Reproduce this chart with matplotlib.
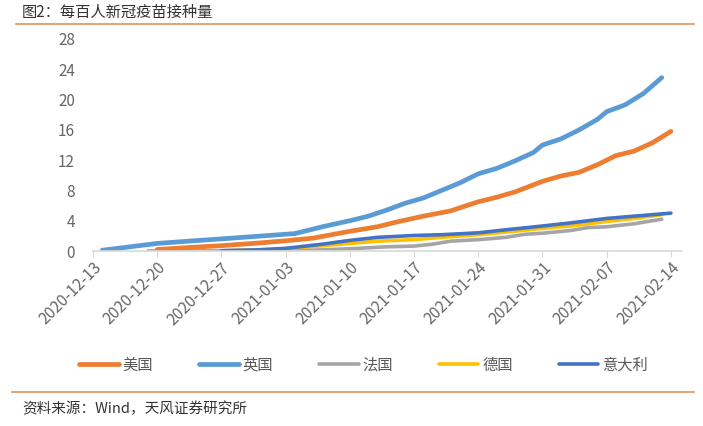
import matplotlib
matplotlib.use("Agg")
import matplotlib.pyplot as plt
import matplotlib.dates as mdates
import pandas as pd

plt.rcParams['font.family'] = ['Noto Sans CJK SC', 'DejaVu Sans']

# data (doses per 100 people)
us_dates = ["2020-12-20", "2020-12-24", "2020-12-27", "2020-12-31", "2021-01-03", "2021-01-06",
            "2021-01-10", "2021-01-13", "2021-01-15", "2021-01-18", "2021-01-21", "2021-01-24",
            "2021-01-26", "2021-01-28", "2021-01-31", "2021-02-02", "2021-02-04", "2021-02-06",
            "2021-02-08", "2021-02-10", "2021-02-12", "2021-02-14"]
us_vals = [0.2, 0.5, 0.7, 1.05, 1.35, 1.7, 2.6, 3.2, 3.8, 4.6, 5.3, 6.5,
           7.1, 7.8, 9.2, 9.9, 10.4, 11.4, 12.6, 13.2, 14.3, 15.8]

uk_dates = ["2020-12-14", "2020-12-17", "2020-12-20", "2020-12-24", "2020-12-27", "2020-12-31",
            "2021-01-04", "2021-01-07", "2021-01-10", "2021-01-12", "2021-01-14", "2021-01-16",
            "2021-01-18", "2021-01-20", "2021-01-22", "2021-01-24", "2021-01-26", "2021-01-28",
            "2021-01-30", "2021-01-31", "2021-02-02", "2021-02-04", "2021-02-06", "2021-02-07",
            "2021-02-09", "2021-02-11", "2021-02-13"]
uk_vals = [0.1, 0.55, 1.0, 1.35, 1.6, 1.95, 2.3, 3.2, 4.0, 4.6, 5.4, 6.3,
           7.0, 8.0, 9.0, 10.2, 10.9, 11.9, 13.0, 14.0, 14.8, 16.0, 17.4, 18.4,
           19.3, 20.8, 22.9]

fr_dates = ["2020-12-19", "2020-12-27", "2021-01-03", "2021-01-07", "2021-01-10", "2021-01-14",
            "2021-01-17", "2021-01-19", "2021-01-21", "2021-01-24", "2021-01-27", "2021-01-29",
            "2021-01-31", "2021-02-03", "2021-02-05", "2021-02-07", "2021-02-10", "2021-02-13"]
fr_vals = [0.02, 0.02, 0.05, 0.15, 0.3, 0.55, 0.65, 0.9, 1.3, 1.5, 1.8, 2.2,
           2.35, 2.7, 3.1, 3.2, 3.6, 4.2]

de_dates = ["2020-12-27", "2020-12-31", "2021-01-03", "2021-01-07", "2021-01-10", "2021-01-13",
            "2021-01-17", "2021-01-20", "2021-01-24", "2021-01-27", "2021-01-31", "2021-02-03",
            "2021-02-07", "2021-02-10", "2021-02-13"]
de_vals = [0.02, 0.15, 0.3, 0.7, 1.0, 1.3, 1.5, 1.8, 2.15, 2.5, 3.0, 3.3, 3.9, 4.3, 4.8]

it_dates = ["2020-12-27", "2020-12-31", "2021-01-03", "2021-01-07", "2021-01-10", "2021-01-13",
            "2021-01-17", "2021-01-20", "2021-01-24", "2021-01-27", "2021-01-31", "2021-02-03",
            "2021-02-07", "2021-02-10", "2021-02-14"]
it_vals = [0.05, 0.15, 0.35, 0.9, 1.4, 1.8, 2.05, 2.15, 2.4, 2.8, 3.3, 3.7, 4.3, 4.6, 5.0]

tick_dates = pd.date_range("2020-12-13", "2021-02-14", freq="7D")
y_ticks = [0, 4, 8, 12, 16, 20, 24, 28]

series = [
    ("美国", us_dates, us_vals, "#ED7D31", 3.4),
    ("英国", uk_dates, uk_vals, "#5B9BD5", 3.4),
    ("法国", fr_dates, fr_vals, "#A5A5A5", 2.6),
    ("德国", de_dates, de_vals, "#FFC000", 2.6),
    ("意大利", it_dates, it_vals, "#4472C4", 2.6),
]

fig = plt.figure(figsize=(7.03, 4.26), dpi=100)
ax = fig.add_axes([93 / 703, 1 - 251 / 426, (682 - 93) / 703, (251 - 39) / 426])

# draw order: the small ones first so the big curves sit on top
for name, d, v, c, lw in [series[2], series[3], series[4], series[0], series[1]]:
    ax.plot(pd.to_datetime(d), v, color=c, lw=lw, label=name, solid_capstyle="round")

ax.set_xlim(pd.Timestamp("2020-12-13"), pd.Timestamp("2021-02-15 05:00"))
ax.set_ylim(0, 28)
ax.set_yticks(y_ticks)
ax.set_xticks(tick_dates)
ax.xaxis.set_major_formatter(mdates.DateFormatter("%Y-%m-%d"))

for s in ["top", "right", "left"]:
    ax.spines[s].set_visible(False)
ax.spines["bottom"].set_color("#D9D9D9")
ax.spines["bottom"].set_linewidth(1.2)
ax.tick_params(axis="y", length=0, labelsize=11, labelcolor="#666666", pad=13)
ax.tick_params(axis="x", length=4, color="#D9D9D9", labelsize=11.3, labelcolor="#666666", pad=2)
for lab in ax.get_xticklabels():
    lab.set_rotation(45)
    lab.set_ha("right")
    lab.set_rotation_mode("anchor")

# legend in the original order
handles, labels = ax.get_legend_handles_labels()
order = ["美国", "英国", "法国", "德国", "意大利"]
hmap = dict(zip(labels, handles))
fig.legend([hmap[k] for k in order], order, loc="center", bbox_to_anchor=(0.517, 1 - 365 / 426),
           ncol=5, frameon=False, fontsize=11, handlelength=2.6, handletextpad=0.25,
           columnspacing=3.0, labelcolor="#595959")

# title, rules and source note
fig.text(22 / 703, 1 - 12 / 426, "图2：每百人新冠疫苗接种量", fontsize=11, color="#333333",
         ha="left", va="center")
fig.add_artist(plt.Line2D([16 / 703, 694 / 703], [1 - 24 / 426, 1 - 24 / 426],
                          color="#D9955B", lw=1.2, transform=fig.transFigure))
fig.add_artist(plt.Line2D([12 / 703, 694 / 703], [1 - 392 / 426, 1 - 392 / 426],
                          color="#D9955B", lw=1.2, transform=fig.transFigure))
fig.text(22 / 703, 1 - 409 / 426, "资料来源：Wind，天风证券研究所", fontsize=10.5, color="#333333",
         ha="left", va="center")

fig.savefig("out.png", dpi=100)
